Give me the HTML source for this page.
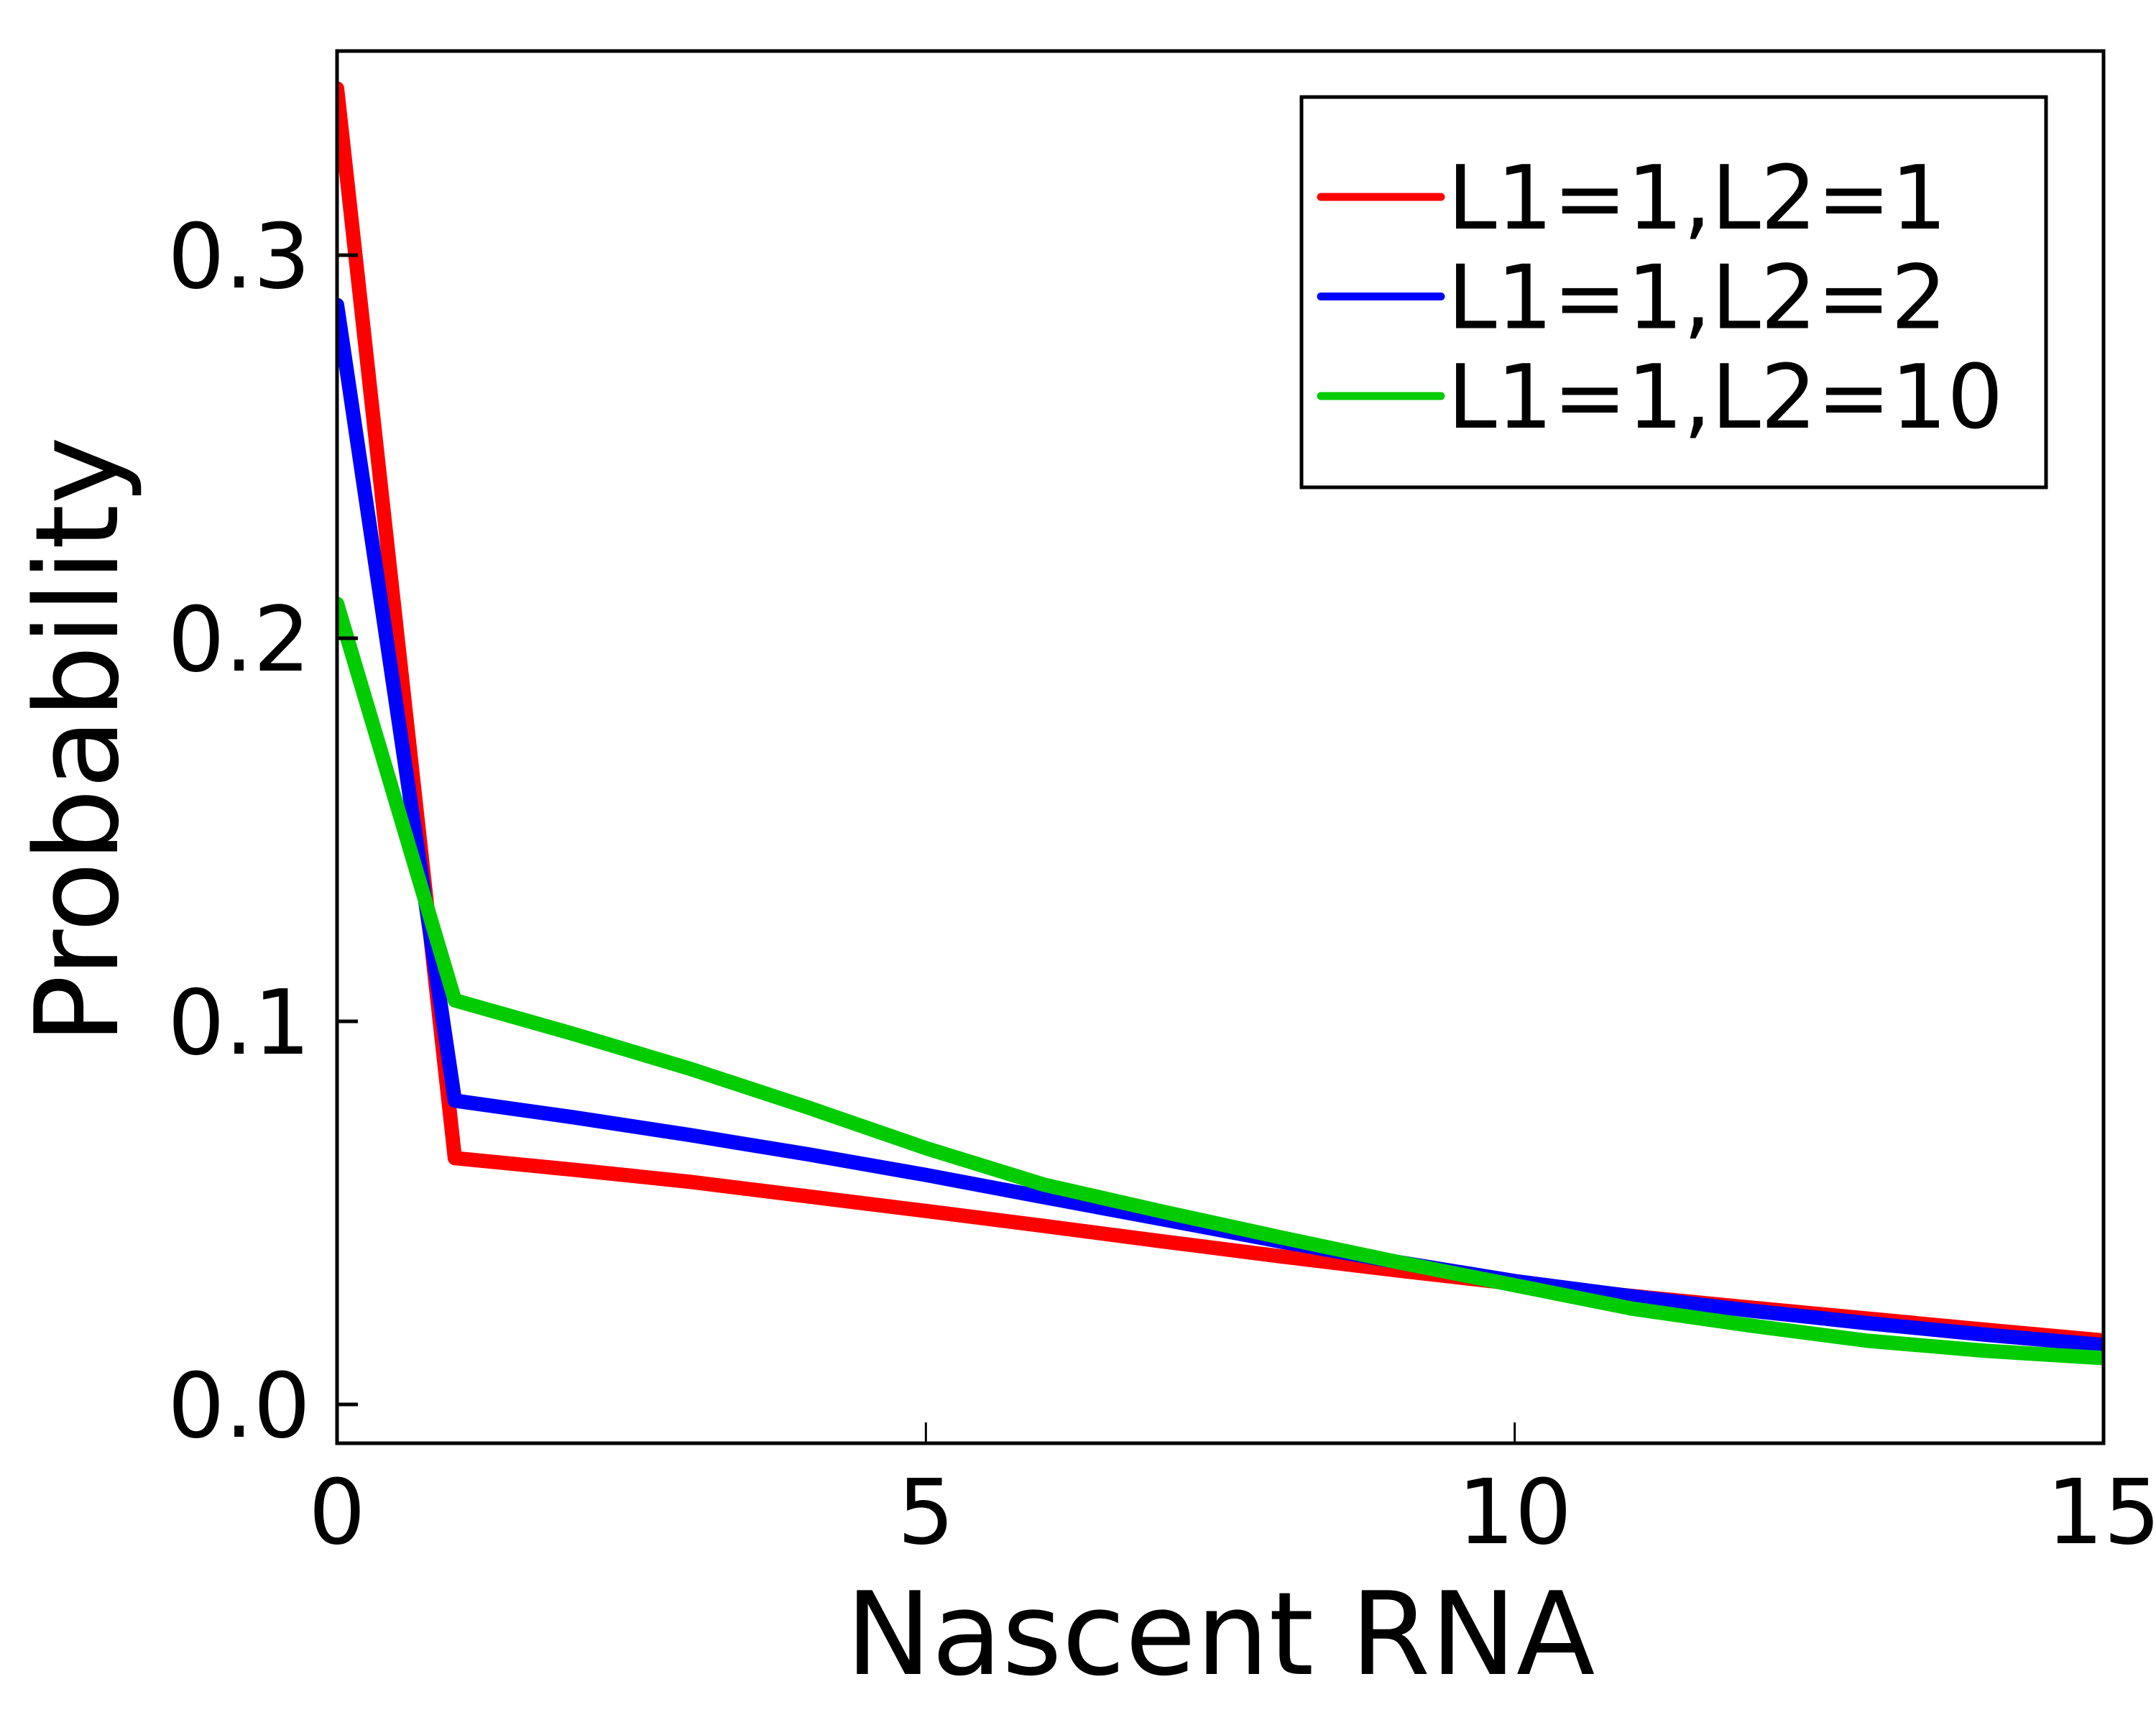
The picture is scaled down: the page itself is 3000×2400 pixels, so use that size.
<!DOCTYPE html>
<html><head><meta charset="utf-8"><style>
html,body{margin:0;padding:0;background:#fff;}
svg{display:block;font-family:"DejaVu Sans","Liberation Sans",sans-serif;}
</style></head><body>
<svg id="chart" width="3000" height="2400" viewBox="0 0 3000 2400" xmlns="http://www.w3.org/2000/svg">
<rect x="0" y="0" width="3000" height="2400" fill="#fff"/>
<g id="series"></g>
<g id="axes"></g>
<text x="0" y="0" font-size="160" text-anchor="middle" transform="translate(163,1030) rotate(-90)">Probability</text>
<text x="1698" y="2329" font-size="160" text-anchor="middle">Nascent RNA</text>
<g>
<rect x="1811" y="135" width="1036" height="543" fill="#fff" stroke="#000" stroke-width="5"/>
<g id="legend-entries"></g>
</g>
</svg>
<script>
const xValues = [0,1,2,3,4,5,6,7,8,9,10,11,12,13,14,15];
const seriesRed = [0.3435,0.0643,0.0613,0.0581,0.0543,0.0505,0.0466,0.0426,0.0387,0.0350,0.0315,0.0283,0.0253,0.0224,0.0195,0.0167];
const seriesBlue = [0.287,0.0793,0.075,0.0703,0.0653,0.0599,0.0541,0.0484,0.0426,0.0372,0.0322,0.0282,0.0245,0.0212,0.0182,0.0155];
const seriesGreen = [0.209,0.1055,0.0968,0.0876,0.0775,0.0669,0.0574,0.0504,0.0437,0.0372,0.0311,0.025,0.0206,0.0166,0.014,0.0121];
const seriesNames = ["L1=1,L2=1","L1=1,L2=2","L1=1,L2=10"];
const seriesColors = ["#ff0000","#0000ff","#00cc00"];
const xTicks = [0,5,10,15];
const xTickLabels = ["0","5","10","15"];
const yTicks = [0,0.1,0.2,0.3];
const yTickLabels = ["0.0","0.1","0.2","0.3"];

const NS = "http://www.w3.org/2000/svg";
const L = 469, R = 2927, T = 71, B = 2008;
function sx(v){ return L + (v - 0) / 15 * (R - L); }
function sy(v){ return 1954 - v * 5330; }

const sg = document.getElementById('series');
const allSeries = [seriesRed, seriesBlue, seriesGreen];
const seriesKeys = ['series-red-l2-1','series-blue-l2-2','series-green-l2-10'];
allSeries.forEach((data, i) => {
  const p = document.createElementNS(NS, 'polyline');
  p.setAttribute('points', data.map((v, j) => sx(xValues[j]).toFixed(1) + ',' + sy(v).toFixed(1)).join(' '));
  p.setAttribute('fill', 'none');
  p.setAttribute('stroke', seriesColors[i]);
  p.setAttribute('stroke-width', '20');
  p.setAttribute('stroke-linejoin', 'round');
  p.setAttribute('stroke-linecap', 'round');
  
  
  sg.appendChild(p);
});
const clip = document.createElementNS(NS,'clipPath');
clip.setAttribute('id','plotclip');
const cr = document.createElementNS(NS,'rect');
cr.setAttribute('x', L); cr.setAttribute('y', T); cr.setAttribute('width', R-L); cr.setAttribute('height', B-T);
clip.appendChild(cr);
document.getElementById('chart').appendChild(clip);
sg.setAttribute('clip-path','url(#plotclip)');

const ag = document.getElementById('axes');
const frame = document.createElementNS(NS, 'rect');
frame.setAttribute('x', L); frame.setAttribute('y', T);
frame.setAttribute('width', R - L); frame.setAttribute('height', B - T);
frame.setAttribute('fill', 'none'); frame.setAttribute('stroke', '#000'); frame.setAttribute('stroke-width', '5');


ag.appendChild(frame);

xTicks.forEach((v, i) => {
  const x = sx(v);
  if (v > 0 && v < 15) {
    const t = document.createElementNS(NS, 'line');
    t.setAttribute('x1', x); t.setAttribute('x2', x);
    t.setAttribute('y1', B); t.setAttribute('y2', B - 29);
    t.setAttribute('stroke', '#000'); t.setAttribute('stroke-width', '3');
    
    
    ag.appendChild(t);
  }
  const lb = document.createElementNS(NS, 'text');
  lb.setAttribute('x', x); lb.setAttribute('y', 2147);
  lb.setAttribute('font-size', '125'); lb.setAttribute('text-anchor', 'middle');
  lb.textContent = xTickLabels[i];
  
  
  ag.appendChild(lb);
});
yTicks.forEach((v, i) => {
  const y = sy(v);
  const t = document.createElementNS(NS, 'line');
  t.setAttribute('x1', L); t.setAttribute('x2', L + 29);
  t.setAttribute('y1', y); t.setAttribute('y2', y);
  t.setAttribute('stroke', '#000'); t.setAttribute('stroke-width', '5');
  
  
  ag.appendChild(t);
  const lb = document.createElementNS(NS, 'text');
  lb.setAttribute('x', 432); lb.setAttribute('y', y + 45);
  lb.setAttribute('font-size', '125'); lb.setAttribute('text-anchor', 'end');
  lb.textContent = yTickLabels[i];
  
  
  ag.appendChild(lb);
});

const lg = document.getElementById('legend-entries');
seriesNames.forEach((name, i) => {
  const y = 274 + i * 138.5;
  const ln = document.createElementNS(NS, 'line');
  ln.setAttribute('x1', 1838); ln.setAttribute('x2', 2005);
  ln.setAttribute('y1', y); ln.setAttribute('y2', y);
  ln.setAttribute('stroke', seriesColors[i]); ln.setAttribute('stroke-width', '11');
  ln.setAttribute('stroke-linecap', 'round');
  
  
  lg.appendChild(ln);
  const tx = document.createElementNS(NS, 'text');
  tx.setAttribute('x', 2014); tx.setAttribute('y', y + 44);
  tx.setAttribute('font-size', '123');
  tx.textContent = name;
  
  
  lg.appendChild(tx);
});
</script>
</body></html>
